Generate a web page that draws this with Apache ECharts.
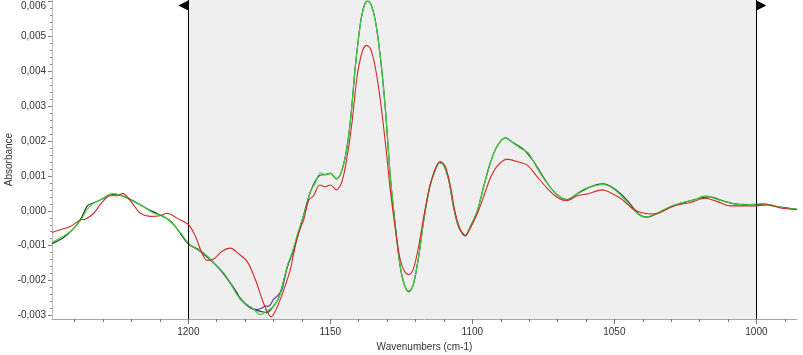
<!DOCTYPE html>
<html><head><meta charset="utf-8">
<script src="https://cdn.jsdelivr.net/npm/echarts@6/dist/echarts.min.js"></script>
<style>html,body{margin:0;padding:0;background:#fff}#c{width:803px;height:355px}</style>
</head><body><div id="c"></div>
<script>
// ---- data (wavenumber cm-1, absorbance) ----
const greenWn = [1248.0,1245.1,1241.5,1239.2,1237.4,1235.7,1233.9,1231.0,1228.1,1226.9,1223.9,1221.6,1218.1,1215.1,1212.2,1208.7,1205.2,1202.2,1199.9,1196.9,1194.6,1192.3,1189.9,1187.6,1185.2,1182.9,1180.5,1177.6,1174.6,1172.3,1170.0,1168.2,1167.0,1165.2,1163.5,1161.2,1158.2,1157.0,1155.3,1153.5,1151.8,1150.0,1147.9,1146.5,1144.7,1143.0,1141.2,1139.4,1138.0,1136.9,1135.7,1134.2,1132.4,1130.6,1128.9,1127.1,1125.4,1123.9,1122.4,1120.9,1118.9,1117.1,1115.0,1113.0,1111.5,1110.1,1108.3,1106.6,1104.8,1102.5,1100.7,1098.3,1097.2,1096.0,1093.7,1091.3,1088.4,1085.4,1083.1,1080.2,1077.2,1073.7,1070.2,1066.7,1063.7,1060.8,1057.3,1054.0,1051.4,1047.9,1044.4,1041.4,1039.1,1035.6,1031.4,1026.8,1022.1,1018.0,1013.9,1009.2,1004.5,998.6,995.1,990.4,985.7];
const greenAbs = [-0.00091,-0.00078,-0.00059,-0.00040,-0.00021,0.00003,0.00019,0.00031,0.00043,0.00049,0.00045,0.00036,0.00022,0.00008,-0.00007,-0.00016,-0.00040,-0.00069,-0.00094,-0.00111,-0.00121,-0.00138,-0.00159,-0.00178,-0.00207,-0.00240,-0.00262,-0.00278,-0.00297,-0.00288,-0.00273,-0.00250,-0.00220,-0.00159,-0.00121,-0.00057,0.00017,0.00055,0.00080,0.00109,0.00103,0.00108,0.00091,0.00103,0.00155,0.00251,0.00412,0.00536,0.00589,0.00600,0.00591,0.00546,0.00441,0.00289,0.00098,-0.00045,-0.00159,-0.00211,-0.00230,-0.00214,-0.00131,-0.00026,0.00069,0.00117,0.00138,0.00131,0.00089,0.00012,-0.00045,-0.00071,-0.00045,-0.00002,0.00031,0.00069,0.00136,0.00184,0.00208,0.00193,0.00179,0.00165,0.00122,0.00079,0.00046,0.00031,0.00046,0.00062,0.00071,0.00076,0.00069,0.00046,0.00012,-0.00011,-0.00018,-0.00009,0.00008,0.00022,0.00031,0.00043,0.00033,0.00022,0.00017,0.00020,0.00017,0.00008,0.00005];

const darkWn = [1248.0,1244.0,1240.5,1237.8,1235.5,1233.5,1230.5,1227.0,1224.0,1221.0,1217.5,1214.0,1210.5,1206.5,1203.0,1199.9,1196.0,1192.3,1188.5,1185.2,1182.0,1179.3,1177.0,1174.6,1172.3,1170.5,1168.2,1165.2,1162.9,1160.0,1157.0,1154.0,1151.8,1150.0,1147.9,1146.5,1144.7,1143.0,1141.2,1139.4,1138.0,1136.9,1135.7,1134.2,1132.4,1130.6,1128.9,1127.1,1125.4,1123.9,1122.4,1120.9,1118.9,1117.1,1115.0,1113.0,1111.5,1110.1,1108.3,1106.6,1104.8,1102.5,1100.7,1098.3,1096.0,1093.7,1091.3,1088.4,1085.4,1082.0,1078.5,1074.5,1070.5,1066.7,1062.5,1058.0,1054.0,1050.0,1045.5,1041.4,1038.5,1034.5,1030.0,1025.0,1020.0,1016.5,1012.0,1007.0,1002.0,997.0,992.0,985.7];
const darkAbs = [-0.00094,-0.00077,-0.00052,-0.00022,0.00015,0.00022,0.00033,0.00047,0.00045,0.00035,0.00020,0.00004,-0.00010,-0.00028,-0.00062,-0.00096,-0.00113,-0.00140,-0.00170,-0.00208,-0.00247,-0.00270,-0.00283,-0.00288,-0.00292,-0.00278,-0.00250,-0.00162,-0.00110,-0.00030,0.00055,0.00100,0.00104,0.00107,0.00092,0.00103,0.00157,0.00253,0.00414,0.00538,0.00590,0.00601,0.00592,0.00547,0.00441,0.00289,0.00098,-0.00045,-0.00160,-0.00213,-0.00232,-0.00215,-0.00131,-0.00026,0.00069,0.00118,0.00139,0.00131,0.00087,0.00010,-0.00047,-0.00072,-0.00045,-0.00002,0.00070,0.00137,0.00185,0.00209,0.00194,0.00176,0.00142,0.00090,0.00048,0.00032,0.00052,0.00070,0.00077,0.00063,0.00030,-0.00010,-0.00018,-0.00006,0.00012,0.00025,0.00036,0.00040,0.00029,0.00019,0.00018,0.00019,0.00011,0.00004];

const purpleWn = [1203.0,1199.9,1196.5,1193.0,1189.5,1186.0,1183.0,1181.7,1179.5,1178.2,1175.8,1174.0,1172.9,1171.7,1170.0,1168.2,1167.0,1165.2,1162.9];
const purpleAbs = [-0.00062,-0.00095,-0.00112,-0.00135,-0.00163,-0.00197,-0.00233,-0.00254,-0.00270,-0.00278,-0.00283,-0.00278,-0.00273,-0.00273,-0.00254,-0.00240,-0.00226,-0.00162,-0.00112];

const redWn = [1248.0,1245.1,1241.5,1238.0,1236.3,1233.3,1230.4,1227.5,1225.1,1223.0,1221.6,1219.3,1216.9,1213.4,1209.9,1207.5,1204.0,1199.9,1197.5,1195.2,1193.4,1191.1,1188.1,1185.2,1182.3,1179.3,1176.4,1174.0,1172.3,1170.9,1169.4,1167.0,1164.1,1162.9,1161.2,1159.4,1157.6,1155.9,1153.8,1151.8,1150.0,1147.9,1145.9,1144.1,1142.4,1140.6,1138.8,1137.3,1135.9,1134.2,1132.4,1130.6,1128.9,1127.1,1125.4,1123.9,1122.4,1120.9,1118.9,1117.1,1115.0,1113.0,1111.3,1109.5,1107.7,1106.0,1104.2,1102.5,1100.7,1098.3,1096.0,1093.7,1091.3,1087.8,1084.3,1080.7,1077.2,1073.7,1070.2,1066.7,1063.1,1059.1,1054.3,1051.4,1047.9,1043.8,1040.8,1036.7,1033.8,1029.1,1023.2,1018.0,1013.9,1009.2,1001.0,996.2,991.5,985.7];
const redAbs = [-0.00062,-0.00054,-0.00045,-0.00026,-0.00024,-0.00007,0.00024,0.00043,0.00043,0.00050,0.00041,0.00017,-0.00007,-0.00016,-0.00014,-0.00007,-0.00021,-0.00040,-0.00073,-0.00121,-0.00142,-0.00138,-0.00116,-0.00107,-0.00123,-0.00145,-0.00197,-0.00254,-0.00288,-0.00304,-0.00288,-0.00240,-0.00169,-0.00121,-0.00064,-0.00026,0.00031,0.00043,0.00074,0.00069,0.00074,0.00060,0.00084,0.00155,0.00251,0.00384,0.00455,0.00474,0.00465,0.00412,0.00317,0.00193,0.00060,-0.00054,-0.00140,-0.00173,-0.00183,-0.00170,-0.00102,-0.00016,0.00069,0.00122,0.00141,0.00127,0.00069,-0.00007,-0.00054,-0.00071,-0.00049,-0.00009,0.00041,0.00093,0.00127,0.00148,0.00141,0.00131,0.00098,0.00065,0.00039,0.00029,0.00043,0.00049,0.00060,0.00052,0.00036,0.00008,-0.00005,-0.00009,-0.00005,0.00014,0.00024,0.00036,0.00027,0.00014,0.00014,0.00017,0.00008,0.00003];

const xTickLabels = [1200, 1150, 1100, 1050, 1000];
const yTickLabels = [-0.003, -0.002, -0.001, 0, 0.001, 0.002, 0.003, 0.004, 0.005, 0.006];
const regionBounds = [1200, 1000];

// ---- derived tick positions ----
const xMin = 985.7, xMax = 1248.0, yMin = -0.0031, yMax = 0.00604;
const xMinor = []; for (let v = 990; v <= 1240; v += 10) xMinor.push(v);
const yMinor = []; for (let k = -15; k <= 30; k++) yMinor.push(+(k * 0.0002).toFixed(4));

const zip = (a, b) => a.map((v, i) => [v, b[i]]);
const fmt = v => {
  const s = (Math.abs(v) < 1e-9 ? 0 : v).toFixed(3).replace('.', ',');
  return v > yMax - 0.0002 ? '{top|' + s + '}' : s;
};
const labelStyle = { color: '#333', fontSize: 10, fontFamily: 'Liberation Sans, Arial, sans-serif' };

const chart = echarts.init(document.getElementById('c'), null, { renderer: 'canvas' });
const baseX = { type: 'value', inverse: true, min: xMin, max: xMax, splitLine: { show: false }, position: 'bottom', offset: 0, gridIndex: 0 };
const baseY = { type: 'value', min: yMin, max: yMax, splitLine: { show: false }, position: 'left', offset: 0, gridIndex: 0 };

chart.setOption({
  animation: false,
  backgroundColor: '#fff',
  grid: { left: 52, right: 6, top: 0, bottom: 36, containLabel: false, outerBoundsMode: 'none' },
  xAxis: [
    Object.assign({}, baseX, {
      name: 'Wavenumbers (cm-1)', nameLocation: 'middle', nameGap: 23, nameMoveOverlap: false,
      nameTextStyle: labelStyle,
      axisLine: { show: true, onZero: false, lineStyle: { color: '#a8a8a8', width: 1 } },
      axisTick: { show: true, length: 5, lineStyle: { color: '#777' }, customValues: xTickLabels },
      axisLabel: { show: true, margin: 8, customValues: xTickLabels, formatter: v => String(v), ...labelStyle }
    }),
    Object.assign({}, baseX, {
      axisLine: { show: false, onZero: false },
      axisTick: { show: true, length: 3, lineStyle: { color: '#777' }, customValues: xMinor },
      axisLabel: { show: false }
    })
  ],
  yAxis: [
    Object.assign({}, baseY, {
      name: 'Absorbance', nameLocation: 'middle', nameGap: 38, nameRotate: 90, nameMoveOverlap: false,
      nameTextStyle: labelStyle,
      axisLine: { show: true, onZero: false, lineStyle: { color: '#bdbdb0', width: 1 } },
      axisTick: { show: true, length: 4, lineStyle: { color: '#777' }, customValues: yTickLabels },
      axisLabel: { show: true, margin: 6, customValues: yTickLabels, formatter: fmt, ...labelStyle,
        rich: { top: { color: '#333', fontSize: 10, fontFamily: 'Liberation Sans, Arial, sans-serif', padding: [10, 0, 0, 0] } } }
    }),
    Object.assign({}, baseY, {
      axisLine: { show: false, onZero: false },
      axisTick: { show: true, length: 2, lineStyle: { color: '#888' }, customValues: yMinor },
      axisLabel: { show: false }
    })
  ],
  series: [
    {
      type: 'line', data: [], z: 1, silent: true,
      markArea: { silent: true, itemStyle: { color: '#efefef' },
        data: [[{ xAxis: regionBounds[0] }, { xAxis: regionBounds[1] }]] },
      markLine: { silent: true, symbol: ['none', 'none'], label: { show: false },
        lineStyle: { color: '#000', width: 1, type: 'solid' },
        data: [{ xAxis: regionBounds[0] }, { xAxis: regionBounds[1] }] },
      markPoint: { silent: true, label: { show: false }, itemStyle: { color: '#000' },
        data: [
          { coord: [regionBounds[0], 0.00588], symbol: 'triangle', symbolSize: [10, 10], symbolRotate: 90, symbolOffset: [-5, 0] },
          { coord: [regionBounds[1], 0.00588], symbol: 'triangle', symbolSize: [10, 10], symbolRotate: -90, symbolOffset: [5, 0] }
        ] }
    },
    { type: 'line', name: 'purple', data: zip(purpleWn, purpleAbs), showSymbol: false, smooth: 0.3, z: 2,
      lineStyle: { color: '#6b3fa0', width: 1.2 } },
    { type: 'line', name: 'dark', data: zip(darkWn, darkAbs), showSymbol: false, smooth: 0.3, z: 3,
      lineStyle: { color: '#2d3d2d', width: 1.2 } },
    { type: 'line', name: 'green', data: zip(greenWn, greenAbs), showSymbol: false, smooth: 0.3, z: 4,
      lineStyle: { color: '#3fd23f', width: 1.2 } },
    { type: 'line', name: 'red', data: zip(redWn, redAbs), showSymbol: false, smooth: 0.3, z: 5,
      lineStyle: { color: '#d02a2a', width: 1.1 } }
  ]
});
</script>
</body></html>
